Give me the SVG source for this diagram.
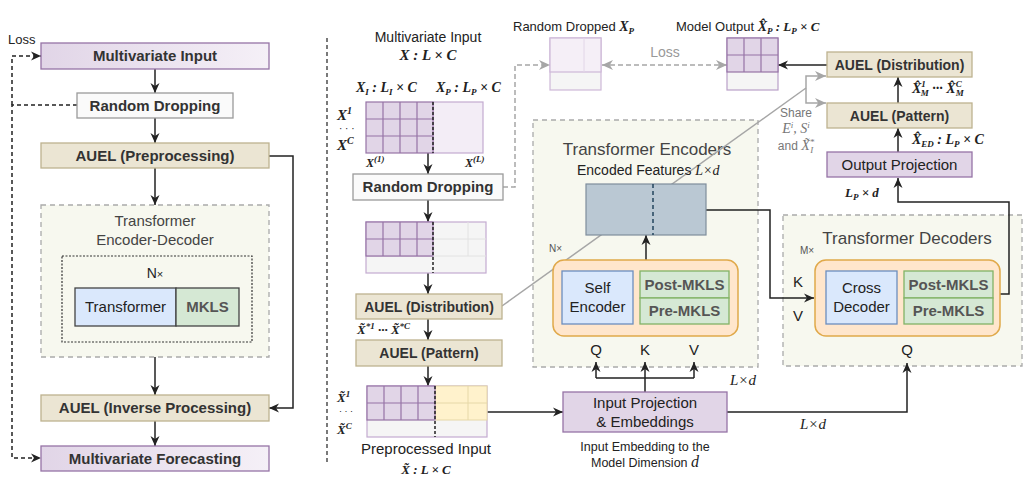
<svg xmlns="http://www.w3.org/2000/svg" width="1024" height="491" viewBox="0 0 1024 491">
<defs>
<linearGradient id="gp" x1="0" y1="0" x2="1" y2="0"><stop offset="0" stop-color="#e1d5e7"/><stop offset="1" stop-color="#f5f0f7"/></linearGradient>
<marker id="ad" viewBox="0 0 10 10" refX="10" refY="5" markerWidth="10" markerHeight="10" markerUnits="userSpaceOnUse" orient="auto-start-reverse"><path d="M0,0.5 L10,5 L0,9.5 L3,5 z" fill="#222"/></marker>
<marker id="ag" viewBox="0 0 10 10" refX="10" refY="5" markerWidth="11" markerHeight="11" markerUnits="userSpaceOnUse" orient="auto-start-reverse"><path d="M0,0.5 L10,5 L0,9.5 L3,5 z" fill="#a6a6a6"/></marker>
</defs>
<style>
text{font-family:"Liberation Sans",Arial,sans-serif;fill:#222}
.b{font-weight:bold;font-size:15px;fill:#333}
.b14{font-weight:bold;font-size:14px;fill:#333}
.r15{font-size:15px;fill:#222}
.m{font-family:"Liberation Serif","DejaVu Serif",serif;font-style:italic;font-weight:bold;fill:#222}
.mi{font-family:"Liberation Serif","DejaVu Serif",serif;font-style:italic;fill:#222}
.purple{fill:#e1d5e7;stroke:#9673a6;stroke-width:1.3}
.tan{fill:#ebe5d3;stroke:#bdb28f;stroke-width:1.3}
.cont{fill:#f7f8ef;stroke:#aaa;stroke-width:1.3;stroke-dasharray:5 4}
.orange{fill:#ffe6cc;stroke:#e0a94a;stroke-width:1.5}
.blue{fill:#dae8fc;stroke:#6c8ebf;stroke-width:1.3}
.green{fill:#d5e8d4;stroke:#82b366;stroke-width:1.3}
.mk{font-weight:bold;font-size:15px;fill:#555}
.gl{stroke:#9673a6;stroke-width:1.2;fill:none}
.ln{fill:none;stroke:#222;stroke-width:1.5}
.lg{fill:none;stroke:#a6a6a6;stroke-width:1.5}
.dash{stroke-dasharray:5 3}
</style>
<rect width="1024" height="491" fill="#fff"/>

<!-- separator -->
<line x1="327" y1="38" x2="327" y2="462" stroke="#333" stroke-width="1.3" stroke-dasharray="4 3"/>

<!-- containers -->
<g id="left-encdec">
<rect class="cont" x="41" y="205" width="228" height="152"/>
<text x="155" y="226" text-anchor="middle" font-size="15" style="fill:#444">Transformer</text>
<text x="155" y="245" text-anchor="middle" font-size="15" style="fill:#444">Encoder-Decoder</text>
<rect x="62" y="256" width="190" height="86" fill="none" stroke="#333" stroke-width="1.2" stroke-dasharray="2 1.5"/>
<text x="155" y="278" text-anchor="middle" font-size="14">N<tspan font-size="11">×</tspan></text>
</g>
<g id="enc-container">
<rect class="cont" x="533" y="120" width="225" height="247"/>
<text x="647" y="155" text-anchor="middle" font-size="17" style="fill:#444">Transformer Encoders</text>
</g>
<g id="dec-container">
<rect class="cont" x="783" y="215" width="239" height="151"/>
<text x="907" y="244" text-anchor="middle" font-size="17" style="fill:#444">Transformer Decoders</text>
</g>

<g id="connectors">
<!-- left -->
<path class="ln" d="M155,69 V93" marker-end="url(#ad)"/>
<path class="ln" d="M155,118 V143" marker-end="url(#ad)"/>
<path class="ln" d="M155,168 V205" marker-end="url(#ad)"/>
<path class="ln" d="M155,357 V395" marker-end="url(#ad)"/>
<path class="ln" d="M155,421 V446" marker-end="url(#ad)"/>
<path class="ln" d="M269,156 H293 V408 H269" marker-end="url(#ad)"/>
<path class="ln" d="M12,105 V56 H41" stroke-dasharray="4 3" marker-end="url(#ad)"/>
<path class="ln" d="M77,105 H12 V458 H41" stroke-dasharray="4 3" marker-end="url(#ad)"/>
<!-- middle column -->
<path class="ln" d="M428,153 V174" marker-end="url(#ad)"/>
<path class="ln" d="M428,200 V222" marker-end="url(#ad)"/>
<path class="ln" d="M428,273 V294" marker-end="url(#ad)"/>
<path class="ln" d="M428,319 V340" marker-end="url(#ad)"/>
<path class="ln" d="M428,366 V386" marker-end="url(#ad)"/>
<path class="ln" d="M487,412 H563" marker-end="url(#ad)"/>
<path class="lg dash" d="M503,187 H515 V65 H550" marker-end="url(#ag)"/>
<path class="lg dash" d="M602,65 H727" marker-start="url(#ag)" marker-end="url(#ag)"/>
<!-- input projection fan -->
<path class="ln" d="M645,392 V378 M596,378 H694"/>
<path class="ln" d="M596,378 V362" marker-end="url(#ad)"/>
<path class="ln" d="M645,378 V362" marker-end="url(#ad)"/>
<path class="ln" d="M694,378 V362" marker-end="url(#ad)"/>
<path class="ln" d="M727,412 H907 V363" marker-end="url(#ad)"/>
<!-- encoder -->
<path class="ln" d="M646,260 V235" marker-end="url(#ad)"/>
<path class="ln" d="M706,210 H770 V298 H814" marker-end="url(#ad)"/>
<path class="ln" d="M633,298 H640"/>
<path class="ln" d="M897,298 H904"/>
<!-- decoder out -->
<path class="ln" d="M1000,294 H1009 V202 H898 V178" marker-end="url(#ad)"/>
<path class="ln" d="M898,152 V128" marker-end="url(#ad)"/>
<path class="ln" d="M898,103 V77" marker-end="url(#ad)"/>
<path class="ln" d="M827,65 H778" marker-end="url(#ad)"/>
<!-- share -->
<path class="lg" d="M502,306 L806,88"/>
<path class="lg" d="M826,76 H806 V103 H826" marker-start="url(#ag)" marker-end="url(#ag)"/>
</g>

<!-- left nodes -->
<g id="loss-left"><text x="8" y="44" font-size="13">Loss</text></g>
<g id="l-input"><rect x="41" y="43" width="228" height="26" fill="url(#gp)" stroke="#9673a6" stroke-width="1.3"/><text class="b" x="155" y="61" text-anchor="middle">Multivariate Input</text></g>
<g id="l-rd"><rect x="77" y="93" width="156" height="25" fill="#fafafa" stroke="#9a9a9a" stroke-width="1.3"/><text class="b" x="155" y="110.5" text-anchor="middle">Random Dropping</text></g>
<g id="l-auel-pre"><rect class="tan" x="41" y="143" width="228" height="25"/><text class="b" x="155" y="161" text-anchor="middle">AUEL (Preprocessing)</text></g>
<g id="l-transformer"><rect class="blue" x="75" y="288" width="101" height="38" style="stroke:#444"/><text class="r15" x="125.5" y="312" text-anchor="middle">Transformer</text></g>
<g id="l-mkls"><rect class="green" x="176" y="288" width="63" height="38" style="stroke:#444"/><text class="mk" x="207.5" y="312" text-anchor="middle">MKLS</text></g>
<g id="l-auel-inv"><rect class="tan" x="41" y="395" width="228" height="26"/><text class="b" x="155" y="413" text-anchor="middle">AUEL (Inverse Processing)</text></g>
<g id="l-forecast"><rect x="41" y="446" width="228" height="25" fill="url(#gp)" stroke="#9673a6" stroke-width="1.3"/><text class="b" x="155" y="464" text-anchor="middle">Multivariate Forecasting</text></g>

<!-- middle: input grid -->
<g id="m-input">
<text x="428" y="42" text-anchor="middle" font-size="14">Multivariate Input</text>
<text class="m" x="428" y="60" text-anchor="middle" font-size="15">X : L × C</text>
<text class="m" x="356" y="92" font-size="14">X<tspan font-size="9" dy="3">I</tspan><tspan dy="-3"> : L</tspan><tspan font-size="9" dy="3">I</tspan><tspan dy="-3"> × C</tspan></text>
<text class="m" x="436" y="92" font-size="14">X<tspan font-size="9" dy="3">P</tspan><tspan dy="-3"> : L</tspan><tspan font-size="9" dy="3">P</tspan><tspan dy="-3"> × C</tspan></text>
<rect x="433" y="102" width="50" height="51" fill="#f3edf6" stroke="#c3abd0" stroke-width="1.2"/>
<rect x="366" y="102" width="67" height="51" fill="#e1d5e7" stroke="#9673a6" stroke-width="1.2"/>
<path class="gl" d="M383,102 V153 M400,102 V153 M417,102 V153 M366,119 H433 M366,136 H433"/>
<line x1="433" y1="102" x2="433" y2="153" stroke="#222" stroke-width="1.5" stroke-dasharray="3 2"/>
<text class="m" x="337" y="120" font-size="15">X<tspan font-size="10" dy="-6">1</tspan></text>
<text x="339" y="132" font-size="10">· · ·</text>
<text class="m" x="337" y="150" font-size="15">X<tspan font-size="10" dy="-6">C</tspan></text>
<text class="m" x="366" y="167" font-size="12">X<tspan font-size="9" dy="-5">(1)</tspan></text>
<text class="m" x="465" y="167" font-size="12">X<tspan font-size="9" dy="-5">(L)</tspan></text>
</g>
<g id="m-rd"><rect x="353" y="174" width="150" height="26" fill="#fafafa" stroke="#9a9a9a" stroke-width="1.3"/><text class="b" x="428" y="192" text-anchor="middle">Random Dropping</text></g>
<g id="m-grid2">
<rect x="366" y="222" width="120" height="51" fill="#f5f5f5" stroke="#c3abd0" stroke-width="1.2"/>
<path d="M468,222 V256 M433,239 H486 M433,256 H486" stroke="#e2e2e2" stroke-width="1"/>
<path d="M366,256 H433" stroke="#c3abd0" stroke-width="1"/>
<rect x="366" y="222" width="67" height="34" fill="#e1d5e7" stroke="#9673a6" stroke-width="1.2"/>
<path class="gl" d="M383,222 V256 M400,222 V256 M417,222 V256 M366,239 H433"/>
<line x1="433" y1="222" x2="433" y2="273" stroke="#222" stroke-width="1.5" stroke-dasharray="3 2"/>
</g>
<g id="m-auel-dist"><rect class="tan" x="356" y="294" width="146" height="25"/><text class="b14" x="429" y="311.5" text-anchor="middle">AUEL (Distribution)</text></g>
<text class="m" x="357" y="334" font-size="13">X̃<tspan font-size="9" dy="-5">*1</tspan><tspan dy="5"> ··· X̃</tspan><tspan font-size="9" dy="-5">*C</tspan></text>
<g id="m-auel-pat"><rect class="tan" x="356" y="340" width="146" height="26"/><text class="b14" x="429" y="358" text-anchor="middle">AUEL (Pattern)</text></g>
<g id="m-grid3">
<rect x="367" y="386" width="120" height="51" fill="#f5f5f5" stroke="#c3abd0" stroke-width="1.2"/>
<rect x="435" y="386" width="52" height="34" fill="#fff2cc" stroke="#e6d8a8" stroke-width="1"/>
<path d="M468,386 V420 M435,403 H487" stroke="#e6d8a8" stroke-width="1"/>
<rect x="367" y="386" width="68" height="34" fill="#e1d5e7" stroke="#9673a6" stroke-width="1.2"/>
<path class="gl" d="M384,386 V420 M401,386 V420 M418,386 V420 M367,403 H435"/>
<line x1="435" y1="386" x2="435" y2="437" stroke="#222" stroke-width="1.5" stroke-dasharray="3 2"/>
<text class="m" x="337" y="402" font-size="13">X̃<tspan font-size="9" dy="-5">1</tspan></text>
<text x="339" y="414" font-size="9">· · ·</text>
<text class="m" x="337" y="434" font-size="13">X̃<tspan font-size="9" dy="-5">C</tspan></text>
<text x="426" y="454" text-anchor="middle" font-size="15">Preprocessed Input</text>
<text class="m" x="426" y="474" text-anchor="middle" font-size="13">X̃ : L × C</text>
</g>

<!-- top: random dropped and model output -->
<g id="rand-dropped">
<text x="513" y="31" font-size="13">Random Dropped <tspan class="m" font-size="14">X</tspan><tspan class="m" font-size="9" dy="3">P</tspan></text>
<rect x="550" y="38" width="51" height="52" fill="#f5f5f5" stroke="#cdb8d8" stroke-width="1.2"/>
<rect x="550" y="38" width="51" height="34" fill="#f5eff7" stroke="#cdb8d8" stroke-width="1.2"/>
<line x1="584" y1="38" x2="584" y2="72" stroke="#e2d6e8" stroke-width="1"/>
</g>
<text x="665" y="57" text-anchor="middle" font-size="14" style="fill:#999">Loss</text>
<g id="model-output">
<text x="676" y="31" font-size="13">Model Output <tspan class="m" font-size="14">X̂</tspan><tspan class="m" font-size="9" dy="3">P</tspan><tspan class="m" font-size="13" dy="-3"> : L</tspan><tspan class="m" font-size="9" dy="3">P</tspan><tspan class="m" font-size="13" dy="-3"> × C</tspan></text>
<rect x="727" y="38" width="51" height="52" fill="#f5f5f5" stroke="#b9a0c8" stroke-width="1.2"/>
<rect x="727" y="38" width="51" height="34" fill="#e1d5e7" stroke="#9673a6" stroke-width="1.2"/>
<path class="gl" d="M744,38 V72 M761,38 V72 M727,55 H778"/>
</g>

<!-- encoder internals -->
<g id="encoded-features">
<text x="577" y="175" font-size="14">Encoded Features <tspan class="mi" font-size="14">L×d</tspan></text>
<rect x="586" y="184" width="120" height="51" fill="#bac8d3" stroke="#7f8e9c" stroke-width="1.2"/>
<line x1="653" y1="184" x2="653" y2="235" stroke="#23445d" stroke-width="1.5" stroke-dasharray="4 3"/>
</g>
<text x="549" y="252" font-size="10" style="fill:#555">N×</text>
<g id="encoder-block">
<rect class="orange" x="553" y="260" width="185" height="76" rx="11"/>
</g>
<g id="self-encoder"><rect class="blue" x="562" y="271" width="71" height="53"/><text class="r15" x="597.5" y="293" text-anchor="middle">Self</text><text class="r15" x="597.5" y="312" text-anchor="middle">Encoder</text></g>
<g id="enc-post"><rect class="green" x="640" y="271" width="89" height="27"/><text class="mk" x="684.5" y="290" text-anchor="middle">Post-MKLS</text></g>
<g id="enc-pre"><rect class="green" x="640" y="298" width="89" height="26"/><text class="mk" x="684.5" y="316" text-anchor="middle">Pre-MKLS</text></g>
<text x="596" y="355" text-anchor="middle" font-size="15">Q</text>
<text x="645" y="355" text-anchor="middle" font-size="15">K</text>
<text x="694" y="355" text-anchor="middle" font-size="15">V</text>
<text class="mi" x="730" y="385" font-size="15">L×d</text>

<g id="input-projection"><rect class="purple" x="563" y="392" width="164" height="40"/><text class="r15" x="645" y="408" text-anchor="middle">Input Projection</text><text class="r15" x="645" y="427" text-anchor="middle">&amp; Embeddings</text></g>
<text x="645" y="451" text-anchor="middle" font-size="12.5">Input Embedding to the</text>
<text x="645" y="467" text-anchor="middle" font-size="12.5">Model Dimension <tspan class="mi" font-size="16">d</tspan></text>
<text class="mi" x="800" y="429" font-size="15">L×d</text>

<!-- decoder internals -->
<text x="800" y="254" font-size="10" style="fill:#555">M×</text>
<g id="decoder-block"><rect class="orange" x="815" y="260" width="185" height="76" rx="11"/></g>
<g id="cross-decoder"><rect class="blue" x="826" y="271" width="71" height="53"/><text class="r15" x="861.5" y="293" text-anchor="middle">Cross</text><text class="r15" x="861.5" y="312" text-anchor="middle">Decoder</text></g>
<g id="dec-post"><rect class="green" x="904" y="271" width="89" height="27"/><text class="mk" x="948.5" y="290" text-anchor="middle">Post-MKLS</text></g>
<g id="dec-pre"><rect class="green" x="904" y="298" width="89" height="26"/><text class="mk" x="948.5" y="316" text-anchor="middle">Pre-MKLS</text></g>
<text x="798" y="287" text-anchor="middle" font-size="15">K</text>
<text x="798" y="321" text-anchor="middle" font-size="15">V</text>
<text x="907" y="355" text-anchor="middle" font-size="15">Q</text>

<!-- right column -->
<text class="m" x="845" y="197" font-size="13">L<tspan font-size="9" dy="3">P</tspan><tspan dy="-3"> × d</tspan></text>
<g id="output-projection"><rect class="purple" x="827" y="152" width="145" height="25"/><text class="r15" x="899.5" y="170" text-anchor="middle">Output Projection</text></g>
<text class="m" x="912" y="144" font-size="14">X̂<tspan font-size="9" dy="3">ED</tspan><tspan dy="-3"> : L</tspan><tspan font-size="9" dy="3">P</tspan><tspan dy="-3"> × C</tspan></text>
<g id="r-auel-pat"><rect class="tan" x="827" y="103" width="145" height="25"/><text class="b14" x="899.5" y="120.5" text-anchor="middle">AUEL (Pattern)</text></g>
<text class="m" x="912" y="93" font-size="14">X̂<tspan font-size="9" dy="-6">1</tspan><tspan font-size="9" dx="-5" dy="9">M</tspan><tspan dy="-3"> ··· X̂</tspan><tspan font-size="9" dy="-6">C</tspan><tspan font-size="9" dx="-6" dy="9">M</tspan></text>
<g id="r-auel-dist"><rect class="tan" x="827" y="52" width="145" height="25"/><text class="b14" x="899.5" y="69.5" text-anchor="middle">AUEL (Distribution)</text></g>
<g id="share-label">
<text x="796" y="117" text-anchor="middle" font-size="12" style="fill:#777">Share</text>
<text class="mi" x="796" y="133" text-anchor="middle" font-size="14" style="fill:#777">E<tspan font-size="9" dy="-5">i</tspan><tspan dy="5">, S</tspan><tspan font-size="9" dy="-5">i</tspan></text>
<text x="796" y="150" text-anchor="middle" font-size="12" style="fill:#777">and <tspan class="mi" font-size="14" style="fill:#777">X̃</tspan><tspan class="mi" font-size="9" dy="-5" style="fill:#777">*</tspan><tspan class="mi" font-size="9" dx="-4" dy="8" style="fill:#777">I</tspan></text>
</g>
</svg>
